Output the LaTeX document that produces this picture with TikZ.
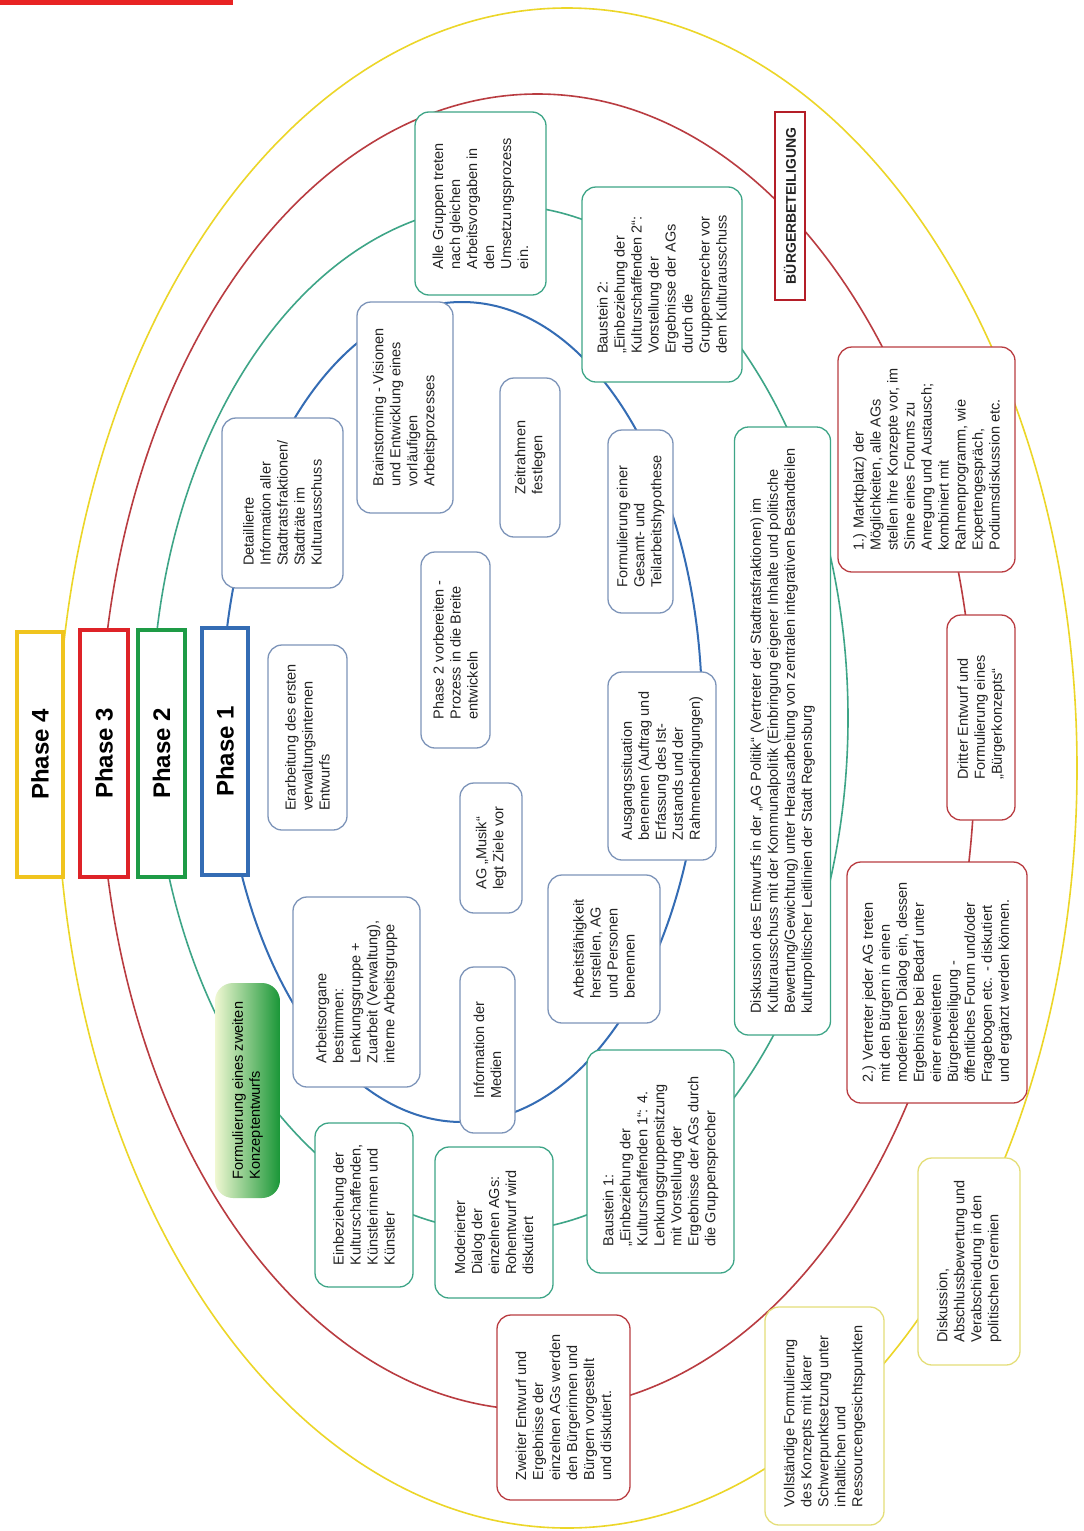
\documentclass[tikz,border=0pt]{standalone}
\usepackage{fontspec}
\setmainfont{Liberation Sans}
\definecolor{ringblue}{RGB}{52,108,180}
\definecolor{boxblue}{RGB}{125,148,185}
\definecolor{ringteal}{RGB}{62,165,135}
\definecolor{phgreen}{RGB}{30,155,70}
\definecolor{ringred}{RGB}{185,60,65}
\definecolor{phred}{RGB}{222,35,40}
\definecolor{burgred}{RGB}{180,30,40}
\definecolor{ringyellow}{RGB}{236,214,40}
\definecolor{phyellow}{RGB}{240,196,30}
\definecolor{boxyellow}{RGB}{228,222,120}
\definecolor{barred}{RGB}{232,35,35}
\definecolor{txt}{RGB}{35,35,35}
\definecolor{palegreen}{RGB}{240,248,210}
\definecolor{midgreen}{RGB}{120,200,110}
\definecolor{deepgreen}{RGB}{25,150,55}
\newcommand\bodyfont{\fontsize{14.5}{17}\selectfont}
\begin{document}
\begin{tikzpicture}[x=1pt,y=-1pt,
  bx/.style={rotate=90, rounded corners=14pt, draw, fill=white, line width=1.3pt,
             align=left, font=\bodyfont, text=txt, inner sep=3pt},
  bblue/.style={bx, draw=boxblue},
  bteal/.style={bx, draw=ringteal},
  bred/.style={bx, draw=ringred},
  byel/.style={bx, draw=boxyellow},
  phbox/.style={rotate=90, draw, fill=white, line width=3.5pt,
                font=\bfseries\fontsize{24}{28}\selectfont, text=black, inner sep=2pt},
  ring/.style={line width=1.6pt},
  sz/.style 2 args={minimum width=#2pt, minimum height=#1pt},
]
\useasboundingbox (0,0) rectangle (1084,1531);
\fill[white] (0,0) rectangle (1084,1531);
\fill[barred] (0,0) rectangle (233,5);

% rings
\draw[ring, draw=ringyellow] (567,768) ellipse [x radius=510pt, y radius=760pt];
\draw[ring, draw=ringred] (537.5,752) ellipse [x radius=437.5pt, y radius=658pt];
\draw[ring, draw=ringteal] (500,718) ellipse [x radius=348pt, y radius=513pt];
\draw[ring, draw=ringblue, line width=2pt] (462,712) ellipse [x radius=240pt, y radius=410pt];

% phase boxes
\node[phbox, draw=phyellow, sz={46}{245}] (ph4) at (40,754.5) {Phase 4};
\node[phbox, draw=phred, sz={48}{247}] (ph3) at (104,753.5) {Phase 3};
\node[phbox, draw=phgreen, sz={47}{247}] (ph2) at (161.5,753.5) {Phase 2};
\node[phbox, draw=ringblue, sz={46}{247}] (ph1) at (225,751.5) {Phase 1};

% phase 1 (inner)
\node[bblue, sz={121}{170}] (det) at (282.5,503) {Detaillierte\\Information aller\\Stadtratsfraktionen/\\Stadträte im\\Kulturausschuss};
\node[bblue, sz={96}{211}] (brain) at (405,407.5) {Brainstorming - Visionen\\und Entwicklung eines\\vorläufigen\\Arbeitsprozesses};
\node[bblue, sz={60}{159}] (zeit) at (530,457.5) {Zeitrahmen\\festlegen};
\node[bblue, sz={65}{183}] (formein) at (640.5,521.5) {Formulierung einer\\Gesamt- und\\Teilarbeitshypothese};
\node[bblue, sz={69}{196}] (ph2v) at (455.5,650) {Phase 2 vorbereiten -\\Prozess in die Breite\\entwickeln};
\node[bblue, sz={79}{185}] (erarb) at (307.5,737.5) {Erarbeitung des ersten\\verwaltungsinternen\\Entwurfs};
\node[bblue, sz={108}{188}] (ausg) at (662,766) {Ausgangssituation\\benennen (Auftrag und\\Erfassung des Ist-\\Zustands und der\\Rahmenbedingungen)};
\node[bblue, sz={62}{130}] (agmusik) at (491,848) {AG „Musik“\\legt Ziele vor};
\node[bblue, sz={127}{190}] (arbo) at (356.5,992) {Arbeitsorgane\\bestimmen:\\Lenkungsgruppe +\\Zuarbeit (Verwaltung),\\interne Arbeitsgruppe};
\node[bblue, sz={112}{148}] (arbf) at (604,949) {Arbeitsfähigkeit\\herstellen, AG\\und Personen\\benennen};
\node[bblue, sz={55}{166}] (medien) at (487.5,1050) {Information der\\Medien};

% phase 2
\node[bteal, sz={131}{183}] (alle) at (480.5,203.5) {Alle Gruppen treten\\nach gleichen\\Arbeitsvorgaben in\\den\\Umsetzungsprozess\\ein.};
\node[bteal, sz={160}{195}] (bau2) at (662,284.5) {Baustein 2:\\„Einbeziehung der\\Kulturschaffenden 2“:\\Vorstellung der\\Ergebnisse der AGs\\durch die\\Gruppensprecher vor\\dem Kulturausschuss};
\node[bteal, sz={96}{608}] (diskent) at (782.5,731) {Diskussion des Entwurfs in der „AG Politik“ (Vertreter der Stadtratsfraktionen) im\\Kulturausschuss mit der Kommunalpolitik (Einbringung eigener Inhalte und politische\\Bewertung/Gewichtung) unter Herausarbeitung von zentralen integrativen Bestandteilen\\kulturpolitischer Leitlinien der Stadt Regensburg};
\node[bteal, sz={147}{223}] (bau1) at (660.5,1161.5) {Baustein 1:\\„Einbeziehung der\\Kulturschaffenden 1“: 4.\\Lenkungsgruppensitzung\\mit Vorstellung der\\Ergebnisse der AGs durch\\die Gruppensprecher};
\node[bteal, sz={118}{151}] (moder) at (494,1222.5) {Moderierter\\Dialog der\\einzelnen AGs:\\Rohentwurf wird\\diskutiert};
\node[bteal, sz={98}{164}] (einbez) at (364,1205) {Einbeziehung der\\Kulturschaffenden,\\Künstlerinnen und\\Künstler};
\node[bx, draw=none, rounded corners=18pt, left color=palegreen, middle color=midgreen, right color=deepgreen, text=black, sz={65}{215}] (zweitkonz) at (247.5,1090.5) {Formulierung eines zweiten\\Konzeptentwurfs};

% phase 3
\node[rotate=90, draw=burgred, line width=2.5pt, fill=white, font=\bfseries\fontsize{14}{16}\selectfont, text=txt, inner sep=2pt, sz={30}{188}] (buerger) at (790,206) {BÜRGERBETEILIGUNG};
\node[bred, sz={177}{225}] (markt) at (926.5,459.5) {1.) Marktplatz) der\\Möglichkeiten, alle AGs\\stellen ihre Konzepte vor, im\\Sinne eines Forums zu\\Anregung und Austausch;\\kombiniert mit\\Rahmenprogramm, wie\\Expertengespräch,\\Podiumsdiskussion etc.};
\node[bred, sz={68}{205}] (dritter) at (981,717.5) {Dritter Entwurf und\\Formulierung eines\\„Bürgerkonzepts“};
\node[bred, sz={180}{241}] (vertr) at (937,982.5) {2.) Vertreter jeder AG treten\\mit den Bürgern in einen\\moderierten Dialog ein, dessen\\Ergebnisse bei Bedarf unter\\einer erweiterten\\Bürgerbeteiligung -\\öffentliches Forum und/oder\\Fragebogen etc. - diskutiert\\und ergänzt werden können.};
\node[bred, sz={133}{185}] (zweiter) at (563.5,1407.5) {Zweiter Entwurf und\\Ergebnisse der\\einzelnen AGs werden\\den Bürgerinnen und\\Bürgern vorgestellt\\und diskutiert.};

% phase 4
\node[byel, sz={102}{207}] (diskab) at (969,1261.5) {Diskussion,\\Abschlussbewertung und\\Verabschiedung in den\\politischen Gremien};
\node[byel, sz={119}{218}] (voll) at (824.5,1416) {Vollständige Formulierung\\des Konzepts mit klarer\\Schwerpunktsetzung unter\\inhaltlichen und\\Ressourcengesichtspunkten};
\end{tikzpicture}
\end{document}
